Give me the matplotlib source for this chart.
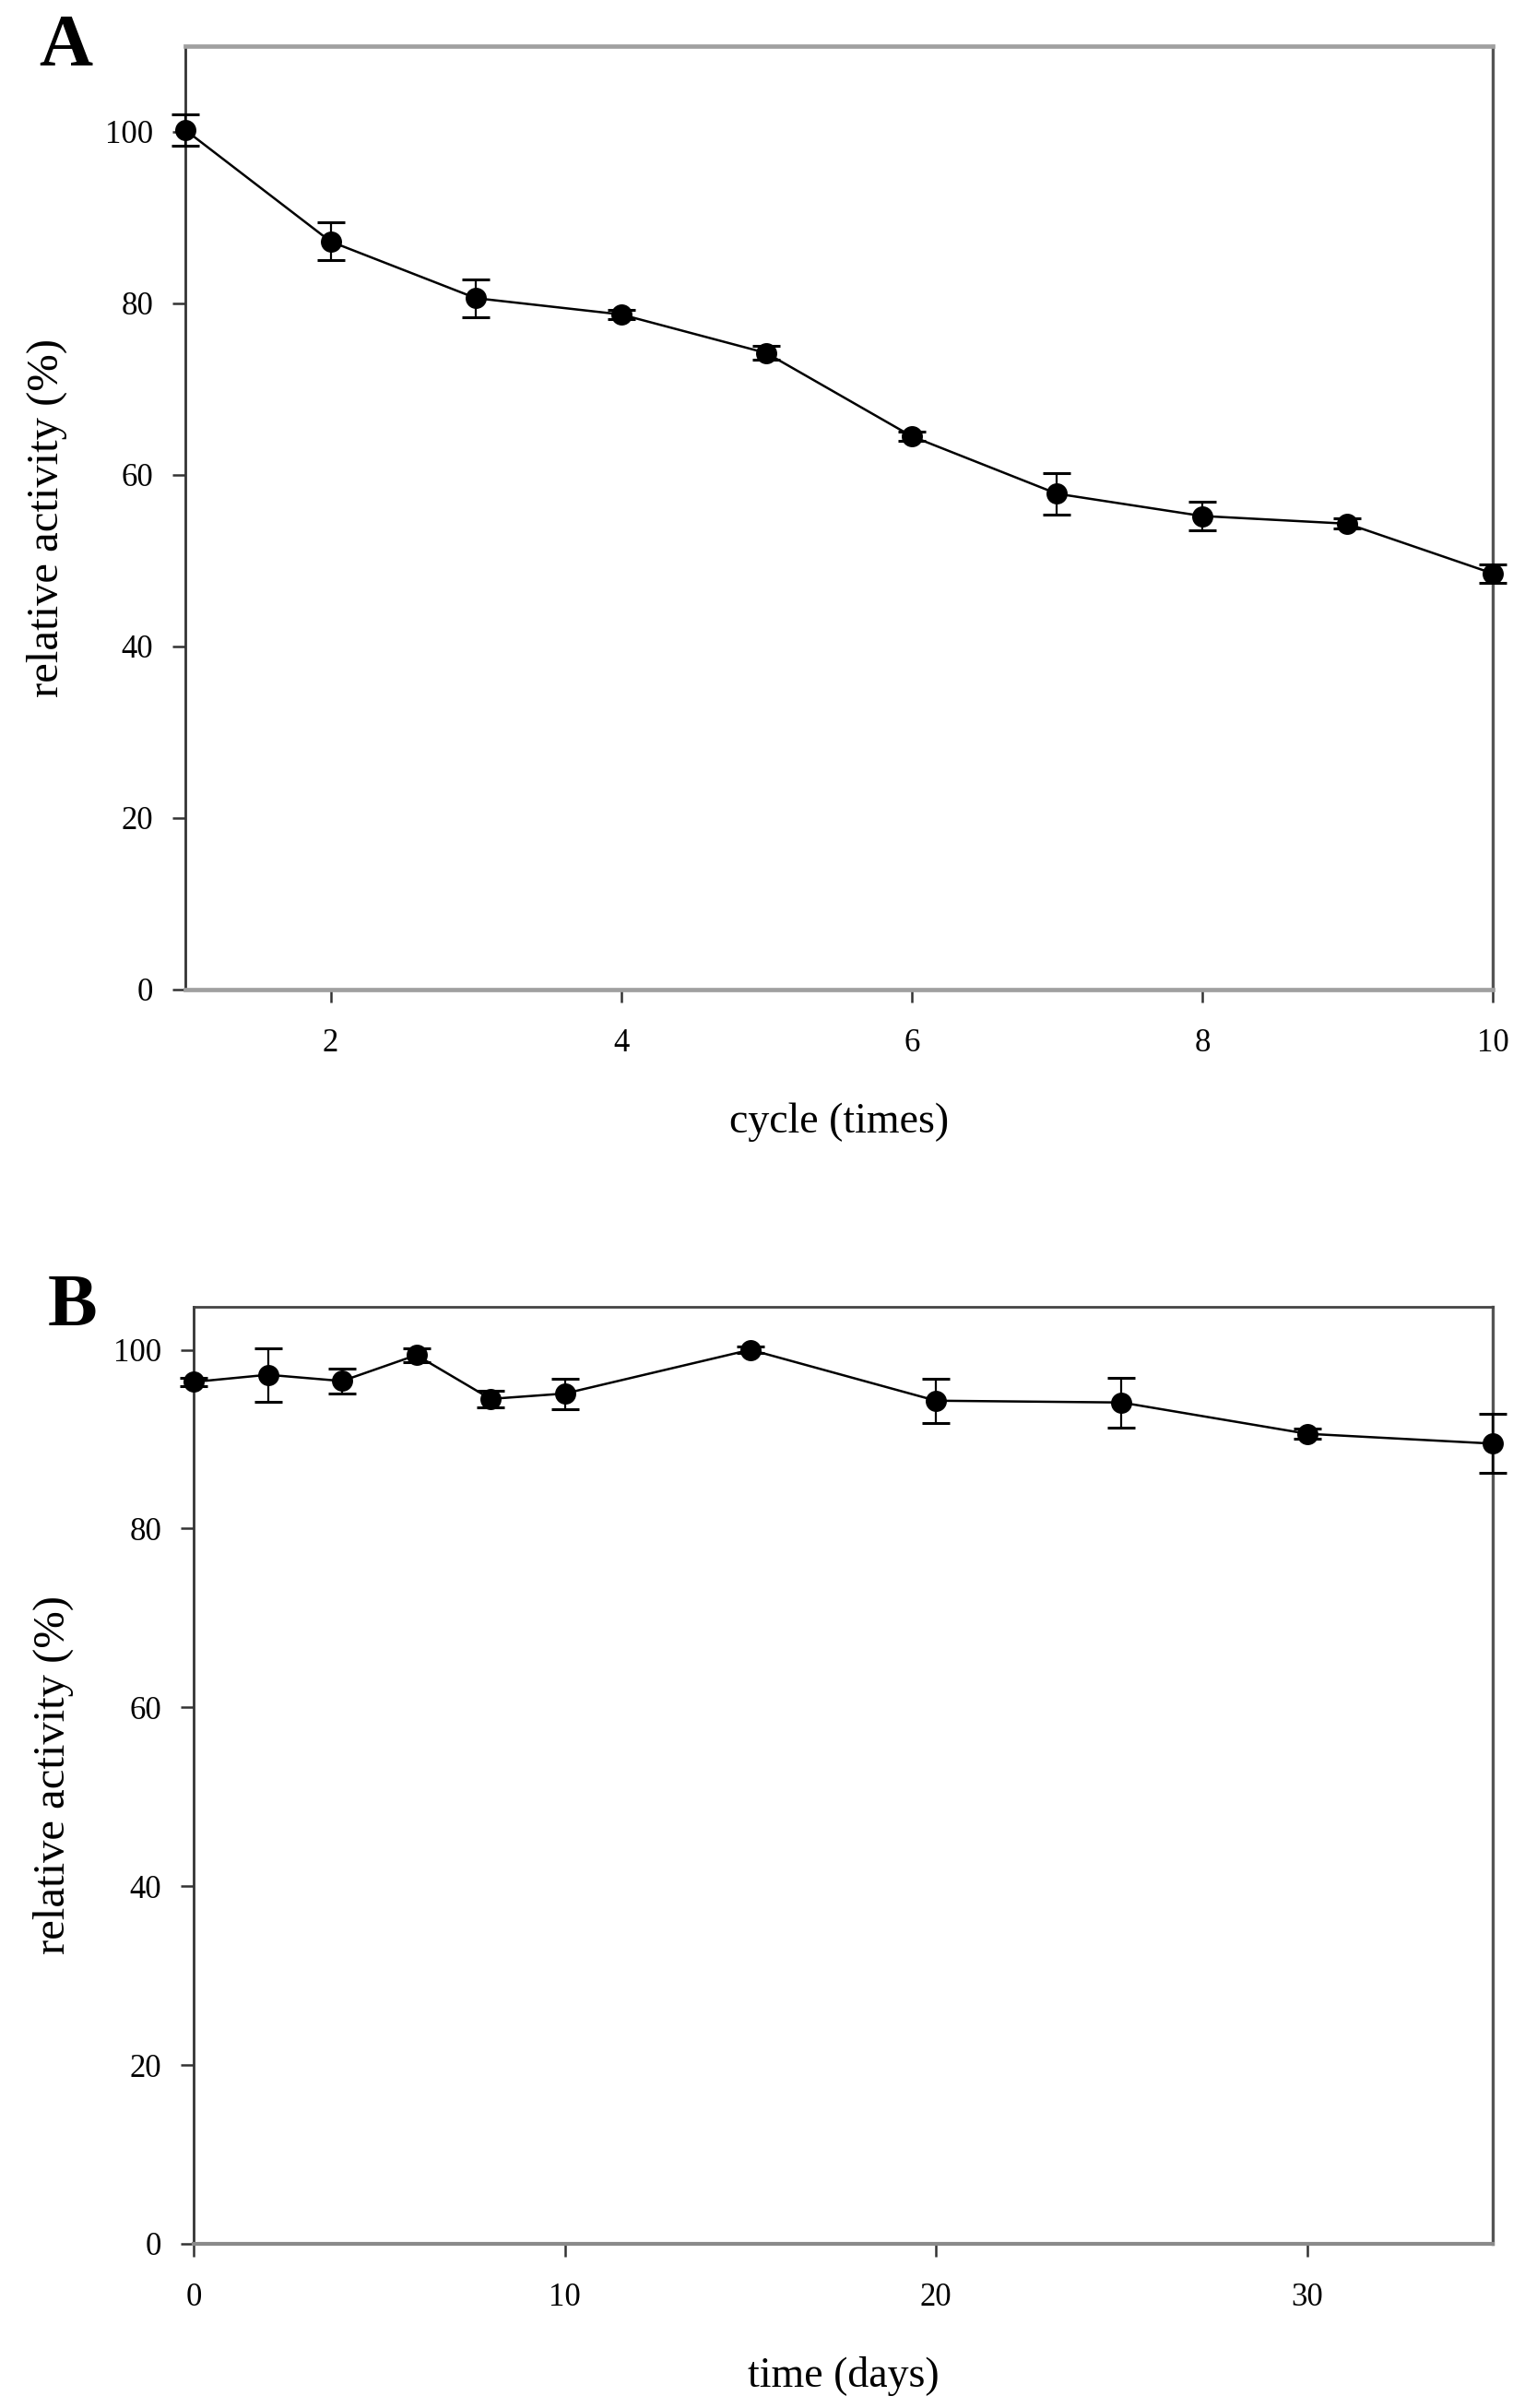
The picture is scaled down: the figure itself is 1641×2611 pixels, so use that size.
import matplotlib
matplotlib.use("Agg")
import matplotlib.pyplot as plt

# Panel A: reuse cycles
cycles = [1, 2, 3, 4, 5, 6, 7, 8, 9, 10]
act_cycle = [100.2, 87.2, 80.6, 78.7, 74.2, 64.5, 57.8, 55.2, 54.3, 48.5]
err_cycle = [1.8, 2.2, 2.2, 0.5, 0.8, 0.5, 2.4, 1.7, 0.6, 1.1]

# Panel B: storage stability
days = [0, 2, 4, 6, 8, 10, 15, 20, 25, 30, 35]
act_days = [96.4, 97.2, 96.5, 99.4, 94.5, 95.1, 100.0, 94.3, 94.1, 90.6, 89.5]
err_days = [0.5, 3.0, 1.4, 0.8, 0.9, 1.7, 0.4, 2.5, 2.8, 0.6, 3.3]

plt.rcParams['font.family'] = ['Liberation Serif', 'DejaVu Serif']

fig = plt.figure(figsize=(16.41, 26.11), dpi=100)
ax_a = fig.add_axes([0.1225, 0.5891, 0.8641, 0.3918])
ax_b = fig.add_axes([0.1280, 0.0682, 0.8586, 0.3891])


def style_axes(ax, top_col, top_lw, bottom_col, bottom_lw):
    ax.spines['left'].set_color('#333333')
    ax.spines['left'].set_linewidth(2.0)
    ax.spines['right'].set_color('#555555')
    ax.spines['right'].set_linewidth(2.4)
    ax.spines['top'].set_color(top_col)
    ax.spines['top'].set_linewidth(top_lw)
    ax.spines['bottom'].set_color(bottom_col)
    ax.spines['bottom'].set_linewidth(bottom_lw)
    ax.tick_params(axis='both', direction='out', length=10, width=1.8,
                   color='#333333', labelsize=25, labelcolor='black')
    ax.tick_params(axis='y', pad=15)
    ax.tick_params(axis='x', pad=20)
    ax.tick_params(top=False, right=False)


def draw_series(ax, x, y, err):
    ax.errorbar(x, y, yerr=err, fmt='o-', color='black', ecolor='black',
                markersize=15.5, linewidth=1.8, elinewidth=1.6, capsize=10.5,
                capthick=2.2, clip_on=False, zorder=5)


# --- A ---
draw_series(ax_a, cycles, act_cycle, err_cycle)
ax_a.set_xlim(1, 10)
ax_a.set_ylim(0, 110)
ax_a.set_xticks([2, 4, 6, 8, 10])
ax_a.set_yticks([0, 20, 40, 60, 80, 100])
style_axes(ax_a, '#a0a0a0', 3.4, '#a0a0a0', 3.4)
ax_a.set_xlabel('cycle (times)', fontsize=33)
ax_a.set_ylabel('relative activity (%)', fontsize=35)
ax_a.xaxis.set_label_coords(0.5, -0.12)
ax_a.yaxis.set_label_coords(-0.09, 0.5)

# --- B ---
draw_series(ax_b, days, act_days, err_days)
ax_b.set_xlim(0, 35)
ax_b.set_ylim(0, 104.8)
ax_b.set_xticks([0, 10, 20, 30])
ax_b.set_yticks([0, 20, 40, 60, 80, 100])
style_axes(ax_b, '#444444', 2.0, '#8a8a8a', 3.0)
ax_b.set_xlabel('time (days)', fontsize=33)
ax_b.set_ylabel('relative activity (%)', fontsize=35)
ax_b.xaxis.set_label_coords(0.5, -0.12)
ax_b.yaxis.set_label_coords(-0.092, 0.5)

# panel letters
fig.text(0.0256, 0.9728, 'A', fontsize=58, fontweight='bold', ha='left', va='baseline')
fig.text(0.0317, 0.4496, 'B', fontsize=58, fontweight='bold', ha='left', va='baseline')

fig.savefig('out.png', dpi=100, facecolor='white')
